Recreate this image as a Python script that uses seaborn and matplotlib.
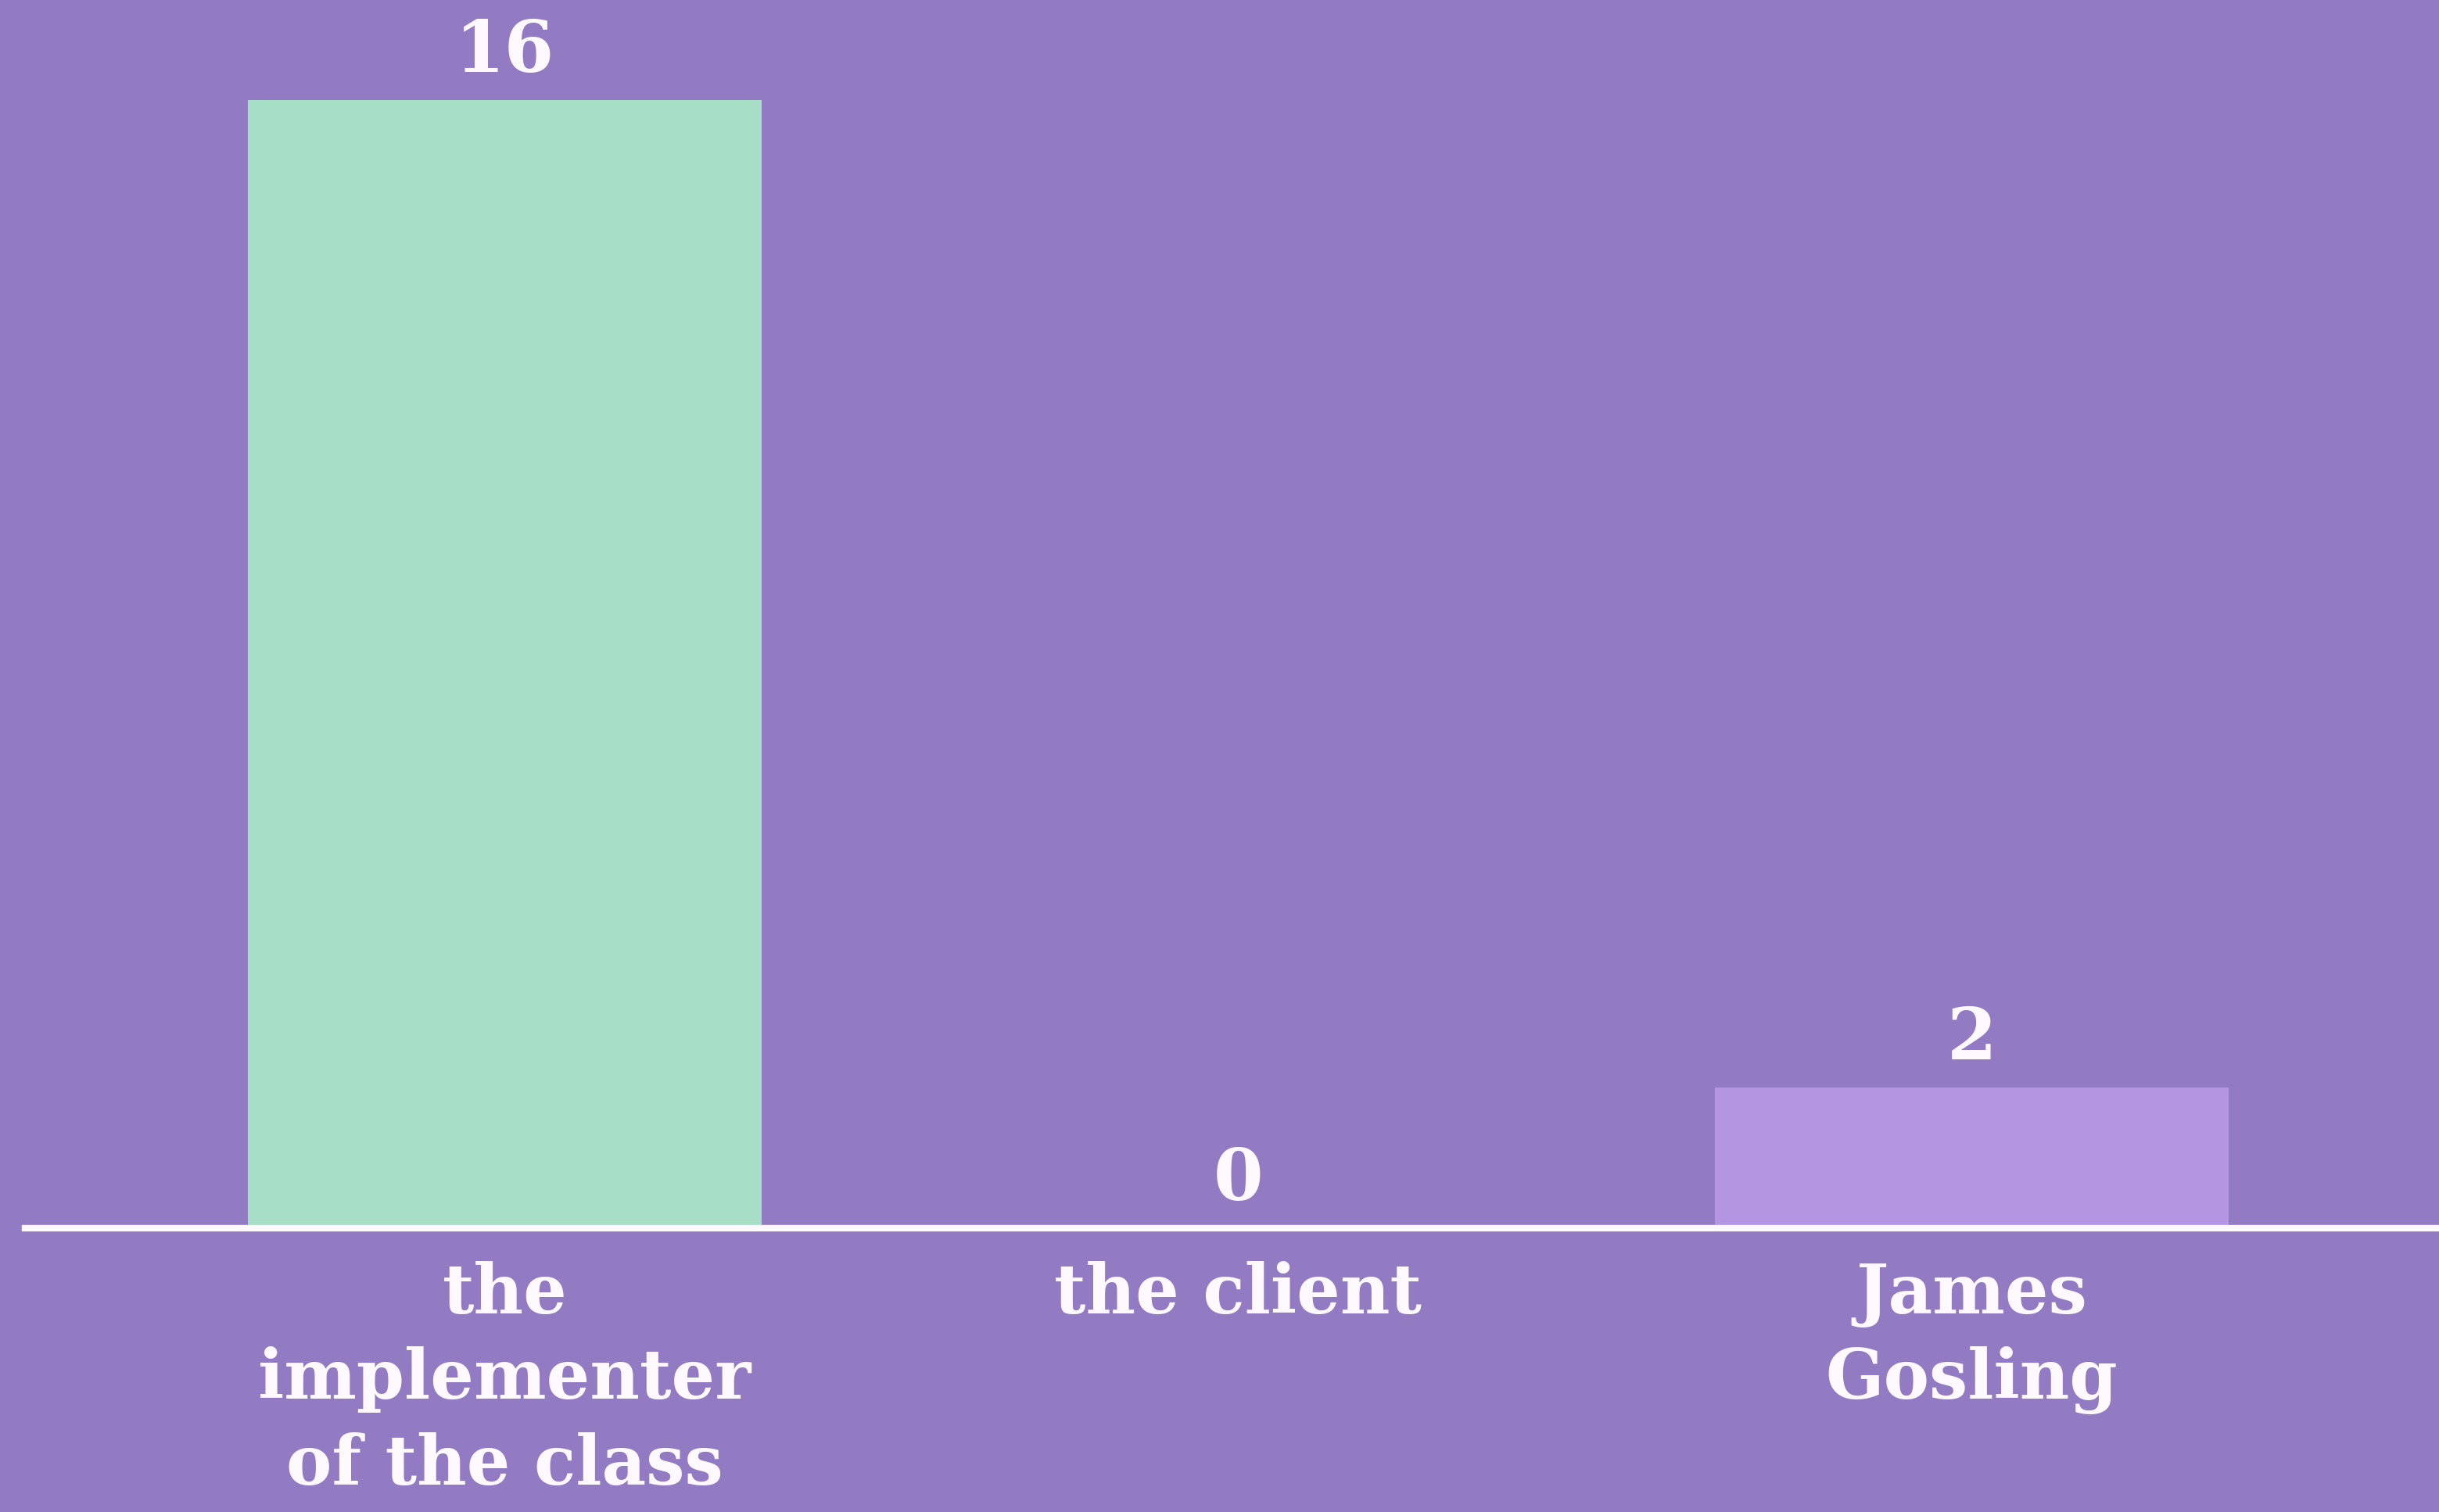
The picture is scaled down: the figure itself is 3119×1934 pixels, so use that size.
import pandas as pd
import seaborn as sns
import matplotlib.pyplot as plt

# --- data ---
categories = ["the\nimplementer\nof the class", "the client", "James\nGosling"]
votes = [16, 0, 2]
bar_colors = ["#A6DEC6", "#A6DEC6", "#B495E2"]

bg = "#937BC4"
white = "#FDF9FF"

df = pd.DataFrame({"answer": categories, "votes": votes})

sns.set_style("white")
plt.rcParams["font.family"] = ["DejaVu Serif"]

fig = plt.figure(figsize=(31.19, 19.34), dpi=100, facecolor=bg)
ax = fig.add_axes([32 / 3119, 363 / 1934, 1 - 32 / 3119, 1 - 363 / 1934])
ax.set_facecolor(bg)

sns.barplot(data=df, x="answer", y="votes", hue="answer",
            palette=bar_colors, width=0.7, legend=False, ax=ax,
            saturation=1, linewidth=0)

ax.set_xlim(-0.654, 2.637)
ax.set_ylim(0, 17.42)

# value labels above the bars
for cont in ax.containers:
    ax.bar_label(cont, padding=12, color=white, fontsize=66,
                 fontweight="bold")

# white baseline only
for s in ["top", "left", "right"]:
    ax.spines[s].set_visible(False)
ax.spines["bottom"].set_color(white)
ax.spines["bottom"].set_linewidth(6)

ax.set_yticks([])
ax.set_xlabel("")
ax.set_ylabel("")
ax.tick_params(axis="x", length=0, pad=30, labelsize=63, labelcolor=white)
for lbl in ax.get_xticklabels():
    lbl.set_fontweight("bold")
    lbl.set_linespacing(1.37)
    lbl.set_multialignment("center")

fig.savefig("out.png", dpi=100, facecolor=bg)
